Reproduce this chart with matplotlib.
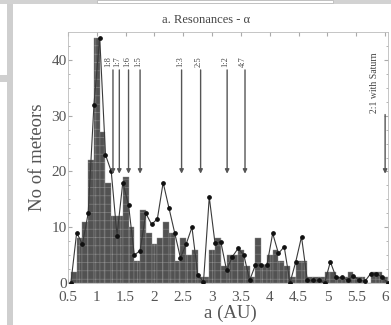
import numpy as np
import matplotlib.pyplot as plt
from matplotlib.patches import Rectangle

# ==========================================
# Data
# ==========================================
# bin left edges / line nodes in AU, 0.1 AU steps
A_NODES = np.round(np.arange(0.55, 6.1, 0.1), 2)

# histogram counts, one per 0.1 AU bin
BAR_COUNTS = [2, 8, 11, 22, 44, 27, 18, 12, 12, 19,
              10, 4, 13, 9, 7, 8, 11, 9, 4, 8,
              5, 6, 1, 1, 6, 8, 3, 5, 5, 6,
              3, 1, 8, 3, 5, 6, 4, 3, 1, 4,
              4, 1, 1, 1, 2, 2, 1, 1, 2, 1,
              1, 0, 2, 2, 1]

# overplotted line with dots
LINE_COUNTS = [0, 9, 7, 12.5, 32, 44, 23, 20, 8.5, 18,
               14, 5, 5.8, 12.5, 10.5, 11.5, 18, 13.5, 9, 4.5,
               7, 10, 1.5, 0.2, 15.4, 7.1, 7.4, 2.3, 4.7, 6.2,
               5, 0.5, 3.2, 3.2, 3.2, 8.9, 5.3, 6.5, 0, 3.8,
               8.3, 0.5, 0.5, 0.5, 0, 3.8, 1, 1, 0.5, 1.3,
               0.5, 0.3, 1.7, 1.7, 1, 0]

# resonance arrows (arrow position, label position)
RES_A = [1.28, 1.39, 1.55, 1.75, 2.47, 2.80, 3.26, 3.57]
RES_LABEL_A = [1.20, 1.35, 1.52, 1.72, 2.44, 2.77, 3.23, 3.54]
RES_LABELS = ['1:8', '1:7', '1:6', '1:5', '1:3', '2:5', '1:2', '4:7']
SATURN_A = 6.0
SATURN_LABEL = '2:1 with Saturn'

XTICKS = [0.5, 1, 1.5, 2, 2.5, 3, 3.5, 4, 4.5, 5, 5.5, 6]
XTICK_LABELS = ['0.5', '1', '1.5', '2', '2.5', '3', '3.5', '4', '4.5', '5', '5.5', '6']
YTICKS = [0, 10, 20, 30, 40]

plt.rcParams['font.family'] = ['Liberation Serif', 'DejaVu Serif']
plt.rcParams['hatch.color'] = '#9a9a9a'
plt.rcParams['hatch.linewidth'] = 0.4

W, H = 391, 325
fig = plt.figure(figsize=(W / 100, H / 100), dpi=100)
fig.patch.set_facecolor('white')

# page screenshot surroundings
fig.patches.append(Rectangle((0, 1 - 4 / H), 1, 4 / H, transform=fig.transFigure,
                             facecolor='#d2d2d2', edgecolor='none', zorder=0))
fig.patches.append(Rectangle((97 / W, 1 - 3 / H), 236 / W, 3 / H, transform=fig.transFigure,
                             facecolor='white', edgecolor='#bbbbbb', lw=0.6, zorder=0))
fig.patches.append(Rectangle((7 / W, 0), 6 / W, 1 - 4 / H, transform=fig.transFigure,
                             facecolor='#cfcfcf', edgecolor='none', zorder=0))
fig.patches.append(Rectangle((0, 1 - 82 / H), 13 / W, 7 / H, transform=fig.transFigure,
                             facecolor='#cfcfcf', edgecolor='none', zorder=0))

ax = fig.add_axes([68 / W, 1 - 283 / H, 320 / W, 251 / H])

ax.bar(A_NODES[:-1], BAR_COUNTS, width=0.1, align='edge',
       facecolor='#525252', edgecolor='#8c8c8c', linewidth=0.3, hatch='++', zorder=2)
ax.plot(A_NODES, LINE_COUNTS, color='#3a3a3a', linewidth=0.8,
        marker='o', markersize=2.4, markerfacecolor='#111111',
        markeredgecolor='#111111', zorder=3)

# resonance arrows
for a, la, lab in zip(RES_A, RES_LABEL_A, RES_LABELS):
    ax.annotate('', xy=(a, 19.6), xytext=(a, 38.2),
                arrowprops=dict(arrowstyle='-|>', color='#555555', lw=1.0,
                                mutation_scale=6, shrinkA=0, shrinkB=0), zorder=4)
    ax.text(la, 38.8, lab, rotation=90, fontsize=6, ha='center', va='bottom',
            color='#444444')

ax.annotate('', xy=(SATURN_A, 19.6), xytext=(SATURN_A, 30.2),
            arrowprops=dict(arrowstyle='-|>', color='#555555', lw=1.0,
                            mutation_scale=6, shrinkA=0, shrinkB=0), zorder=4)
ax.text(SATURN_A - 0.18, 30.4, SATURN_LABEL, rotation=90, fontsize=7,
        ha='center', va='bottom', color='#444444')

ax.set_xlim(0.5, 6.05)
ax.set_ylim(0, 45)
ax.set_xticks(XTICKS)
ax.set_xticklabels(XTICK_LABELS)
ax.set_yticks(YTICKS)
ax.set_yticks(np.arange(0, 45, 2.5), minor=True)
ax.tick_params(axis='both', which='both', direction='in', top=True, right=True,
               color='#aaaaaa', labelsize=11, labelcolor='#555555')
ax.tick_params(axis='y', which='major', length=3, pad=1)
ax.tick_params(axis='x', which='major', length=3, pad=5.5)
ax.tick_params(axis='both', which='minor', length=1.5)
for s in ax.spines.values():
    s.set_color('#bbbbbb')
    s.set_linewidth(0.6)

fig.text(206 / W, 1 - 20 / H, 'a. Resonances - \u03b1', ha='center', va='center',
         fontsize=9, color='#444444')
fig.text(37 / W, 1 - 157 / H, 'No of meteors', rotation=90, ha='center', va='center',
         fontsize=13.5, color='#555555')
fig.text(230 / W, 1 - 313 / H, 'a (AU)', ha='center', va='center',
         fontsize=13.5, color='#555555')

fig.savefig('out.png', dpi=100)
